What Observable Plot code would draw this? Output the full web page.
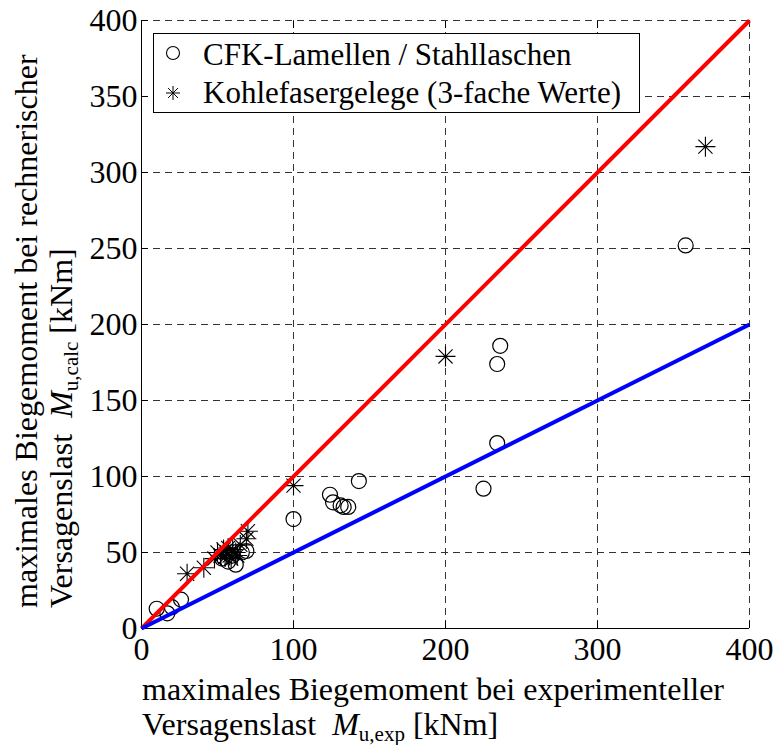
<!DOCTYPE html>
<html><head><meta charset="utf-8">
<script src="https://cdn.jsdelivr.net/npm/d3@7"></script>
<script src="https://cdn.jsdelivr.net/npm/@observablehq/plot@0.6"></script>
<style>
body{margin:0;background:#fff}
#chart{position:relative;width:776px;height:745px}
#chart svg, #chart svg text{font-family:Liberation Serif, serif}
</style>
</head><body><div id="chart"></div>
<script>
// CFK-Lamellen / Stahllaschen (circles)
const cfkExp  = [10, 17, 20, 26, 53, 57, 60, 62, 66, 69, 100, 124, 126, 131, 133, 136, 143, 225, 234, 234, 236, 358];
const cfkCalc = [13, 10, 14, 19, 46, 44, 48, 42, 50, 51,  72,  88,  83,  81,  80,  80,  97,  92, 122, 174, 186, 252];
// Kohlefasergelege (3-fache Werte) (stars)
const kfgExp  = [30, 41, 48, 50, 52, 54, 55, 56, 57, 58, 59, 60, 62, 63, 65, 69, 70, 100, 200, 371];
const kfgCalc = [36, 40, 46, 50, 48, 52, 47, 50, 53, 48, 46, 52, 50, 48, 55, 59, 64,  94, 179, 317];
// reference lines
const refX  = [0, 400];
const redY  = [0, 400];   // M_calc = M_exp
const blueY = [0, 200];   // M_calc = 0.5 M_exp
const xTicks = [0, 100, 200, 300, 400];
const yTicks = [0, 50, 100, 150, 200, 250, 300, 350, 400];
const legendLabels = ["CFK-Lamellen / Stahllaschen", "Kohlefasergelege (3-fache Werte)"];

const cfk = cfkExp.map((x, i) => ({x, y: cfkCalc[i]}));
const kfg = kfgExp.map((x, i) => ({x, y: kfgCalc[i]}));
const red = refX.map((x, i) => ({x, y: redY[i]}));
const blue = refX.map((x, i) => ({x, y: blueY[i]}));

const star8 = {
  draw(ctx, size) {
    const r = Math.sqrt(size / Math.PI);
    for (let k = 0; k < 4; k++) {
      const a = k * Math.PI / 4;
      const dx = r * Math.cos(a), dy = r * Math.sin(a);
      ctx.moveTo(-dx, -dy); ctx.lineTo(dx, dy);
    }
  }
};

const FONT = "Liberation Serif, serif";
const gridStyle = {stroke: "#333", strokeOpacity: 1, strokeWidth: 1, strokeDasharray: "7,5"};

const chart = Plot.plot({
  width: 776, height: 745,
  marginLeft: 141, marginRight: 27, marginTop: 20, marginBottom: 117,
  x: {domain: [0, 400]},
  y: {domain: [0, 400]},
  style: {fontFamily: FONT, fontSize: "32px", color: "black", background: "white", overflow: "visible"},
  marks: [
    Plot.gridX({ticks: xTicks.slice(1), ...gridStyle}),
    Plot.gridY({ticks: yTicks.slice(1), ...gridStyle}),
    Plot.ruleX([0], {stroke: "black", strokeWidth: 1}),
    Plot.ruleY([0], {stroke: "black", strokeWidth: 1}),
    Plot.axisX({ticks: xTicks, anchor: "bottom", tickSize: -7, tickPadding: 16, label: null}),
    Plot.axisX({ticks: xTicks.slice(1, 4), anchor: "top", tickSize: -7, tickFormat: () => "", label: null}),
    Plot.axisY({ticks: yTicks, anchor: "left", tickSize: -7, tickPadding: 11, label: null}),
    Plot.axisY({ticks: yTicks.slice(1, 8), anchor: "right", tickSize: -7, tickFormat: () => "", label: null}),
    Plot.dot(cfk, {x: "x", y: "y", r: 7.5, stroke: "black", strokeWidth: 1.2, fill: "none"}),
    Plot.dot(kfg, {x: "x", y: "y", r: 10, symbol: star8, stroke: "black", strokeWidth: 1.1, fill: "none"}),
    Plot.line(red, {x: "x", y: "y", stroke: "#ff0000", strokeWidth: 4, strokeLinecap: "butt"}),
    Plot.line(blue, {x: "x", y: "y", stroke: "#0000ff", strokeWidth: 4, strokeLinecap: "butt"})
  ]
});

document.getElementById("chart").appendChild(chart);
const svg = d3.select(chart).attr("font-family", FONT);
svg.selectAll("text").attr("font-family", FONT);

function title(g, line1, sym, sub) {
  g.append("text").attr("x", 0).attr("y", 0).attr("font-family", FONT).text(line1);
  const t = g.append("text").attr("x", 0).attr("y", 35).attr("font-family", FONT);
  t.append("tspan").text("Versagenslast\u00a0\u00a0");
  t.append("tspan").attr("font-style", "italic").text(sym);
  t.append("tspan").attr("font-size", "21px").attr("dy", 6).text(sub);
  t.append("tspan").attr("dy", -6).text(" [kNm]");
}
const xt = svg.append("g").attr("transform", "translate(142,700)")
  .attr("font-family", FONT).attr("font-size", 32).attr("fill", "black").attr("text-anchor", "start");
title(xt, "maximales Biegemoment bei experimenteller", "M", "u,exp");
const yt = svg.append("g").attr("transform", "translate(37,608) rotate(-90)")
  .attr("font-family", FONT).attr("font-size", 32).attr("fill", "black").attr("text-anchor", "start");
title(yt, "maximales Biegemoment bei rechnerischer", "M", "u,calc");

// legend
const lg = svg.append("g").attr("font-family", FONT).attr("font-size", 31).attr("fill", "black").attr("text-anchor", "start");
lg.append("rect").attr("x", 153.5).attr("y", 33.5).attr("width", 486).attr("height", 79)
  .attr("fill", "white").attr("stroke", "black").attr("stroke-width", 1);
lg.append("circle").attr("cx", 173).attr("cy", 53).attr("r", 6.5).attr("fill", "none").attr("stroke", "black").attr("stroke-width", 1.1);
lg.append("path").attr("transform", "translate(173,93)")
  .attr("d", d3.symbol().type(star8).size(Math.PI * 49)()).attr("stroke", "black").attr("fill", "none");
lg.append("text").attr("x", 203).attr("y", 65).attr("font-family", FONT).text(legendLabels[0]);
lg.append("text").attr("x", 203).attr("y", 103).attr("font-family", FONT).text(legendLabels[1]);
</script>
</body></html>
